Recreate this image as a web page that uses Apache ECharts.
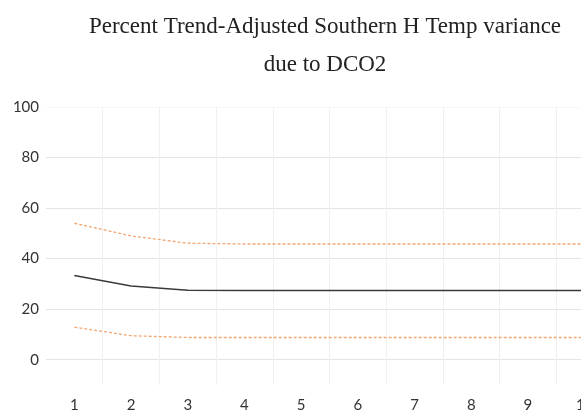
<!DOCTYPE html>
<html>
<head>
<meta charset="utf-8">
<script src="https://cdn.jsdelivr.net/npm/echarts@6/dist/echarts.min.js"></script>
<style>html,body{margin:0;padding:0;background:#fff;overflow:hidden;width:581px;height:414px;}#c{width:613px;height:414px;}</style>
</head>
<body>
<div id="c"></div>
<script>
var categories = ['1','2','3','4','5','6','7','8','9','10'];
var central = [33.3, 29.2, 27.5, 27.4, 27.4, 27.4, 27.4, 27.4, 27.4, 27.4];
var upper = [54.0, 49.0, 46.1, 45.8, 45.8, 45.8, 45.8, 45.8, 45.8, 45.8];
var lower = [12.9, 9.5, 8.8, 8.8, 8.8, 8.8, 8.8, 8.8, 8.8, 8.8];
var yTicks = [0, 20, 40, 60, 80, 100];
var titleText = 'Percent Trend-Adjusted Southern H Temp variance\ndue to DCO2';

var hColors = [];
for (var v = -10; v <= 100; v += 10) {
  hColors.push(yTicks.indexOf(v) >= 0 ? (v === 100 ? '#f7f7f7' : '#e4e4e4') : 'rgba(0,0,0,0)');
}
var vColors = ['rgba(0,0,0,0)'];
for (var i = 0; i < categories.length; i++) vColors.push('#f0f0f0');

var chart = echarts.init(document.getElementById('c'), null, {renderer: 'canvas'});
chart.setOption({
  animation: false,
  backgroundColor: '#fff',
  title: {
    text: titleText,
    left: 320,
    textAlign: 'center',
    top: 3,
    textStyle: {
      fontFamily: 'Liberation Serif',
      fontWeight: 'normal',
      fontSize: 23,
      color: '#222',
      lineHeight: 38
    }
  },
  grid: {left: 46, top: 107, right: 0, bottom: 29, containLabel: false},
  xAxis: {
    type: 'category',
    data: categories,
    boundaryGap: true,
    axisLine: {show: false},
    axisTick: {show: false},
    axisLabel: {fontFamily: 'Lato', fontSize: 15, color: '#333', margin: 13},
    splitLine: {show: true, lineStyle: {color: vColors, width: 1}}
  },
  yAxis: {
    type: 'value',
    min: -10,
    max: 100,
    interval: 10,
    axisLine: {show: false},
    axisTick: {show: false},
    axisLabel: {
      fontFamily: 'Lato', fontSize: 15, color: '#333', margin: 7,
      formatter: function (val) { return yTicks.indexOf(val) >= 0 ? String(val) : ''; }
    },
    splitLine: {show: true, lineStyle: {color: hColors, width: 1}}
  },
  series: [
    {
      type: 'line', data: upper, symbol: 'none',
      lineStyle: {color: '#f0a772', width: 1.3, type: [3, 2]}
    },
    {
      type: 'line', data: central, symbol: 'none',
      lineStyle: {color: '#3a3a3a', width: 1.6}
    },
    {
      type: 'line', data: lower, symbol: 'none',
      lineStyle: {color: '#f0a772', width: 1.3, type: [3, 2]}
    }
  ]
});
</script>
</body>
</html>
